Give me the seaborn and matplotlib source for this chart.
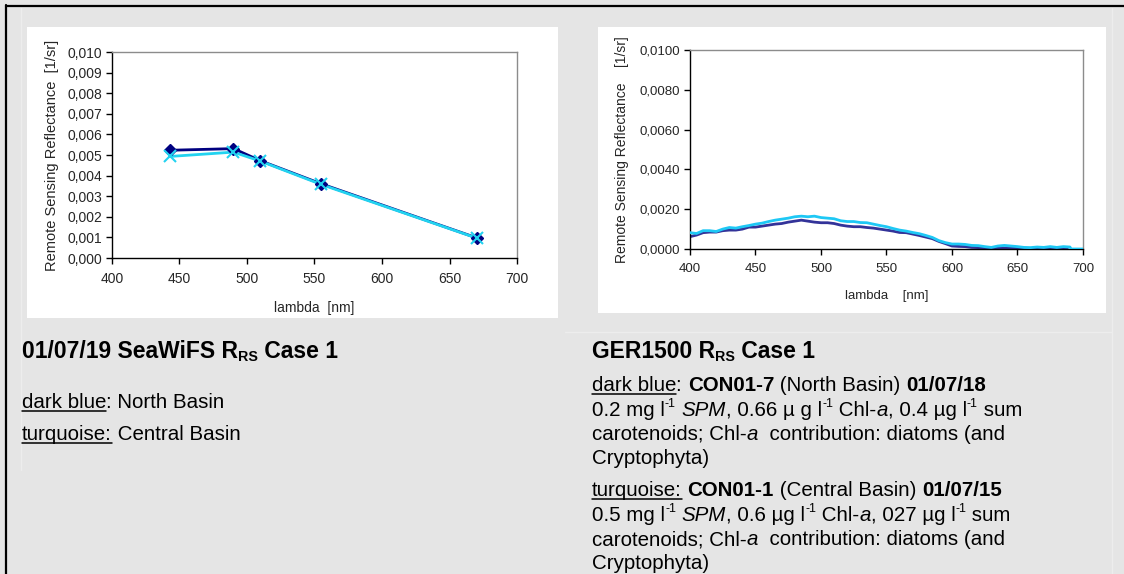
import numpy as np
import pandas as pd
import matplotlib
matplotlib.use("Agg")
import matplotlib.pyplot as plt
import seaborn as sns
from matplotlib.lines import Line2D
from matplotlib.patches import Rectangle
from matplotlib.ticker import FuncFormatter
from matplotlib.transforms import IdentityTransform

# ---------------- data ----------------
seawifs_nm = [443, 490, 510, 555, 670]
seawifs_north = [0.00523, 0.00531, 0.00472, 0.00360, 0.00098]
seawifs_central = [0.00493, 0.00514, 0.00470, 0.00357, 0.00097]

ger_nm_north = [400, 405, 410, 415, 420, 425, 430, 435, 440, 445, 450, 455, 460, 465, 470,
                475, 480, 485, 490, 495, 500, 505, 510, 515, 520, 525, 530, 535, 540, 545,
                550, 555, 560, 565, 570, 575, 580, 585, 590, 595, 600, 605, 610, 615, 620,
                625, 630, 635, 640, 645, 650, 655, 660, 665, 670, 675, 680, 685, 688]
ger_north = [0.00062, 0.00070, 0.00082, 0.00085, 0.00085, 0.00092, 0.00095, 0.00095, 0.00100,
             0.00110, 0.00110, 0.00115, 0.00120, 0.00125, 0.00128, 0.00135, 0.00140, 0.00145,
             0.00140, 0.00135, 0.00132, 0.00132, 0.00128, 0.00120, 0.00115, 0.00112, 0.00112,
             0.00108, 0.00105, 0.00100, 0.00095, 0.00090, 0.00083, 0.00082, 0.00075, 0.00068,
             0.00060, 0.00052, 0.00038, 0.00027, 0.00015, 0.00013, 0.00012, 0.00008, 0.00007,
             0.00005, 0.00005, 0.00007, 0.00005, 0.00003, 0.00003, 0.00004, 0.00003, 0.00003,
             0.00004, 0.00003, 0.00003, 0.00003, 0.00003]

ger_nm_central = [400, 405, 410, 415, 420, 425, 430, 435, 440, 445, 450, 455, 460, 465, 470,
                  475, 480, 485, 490, 495, 500, 505, 510, 515, 520, 525, 530, 535, 540, 545,
                  550, 555, 560, 565, 570, 575, 580, 585, 590, 595, 600, 605, 610, 615, 620,
                  625, 630, 635, 640, 645, 650, 655, 660, 665, 670, 675, 680, 685, 690, 691, 700]
ger_central = [0.00082, 0.00078, 0.00092, 0.00092, 0.00088, 0.00100, 0.00108, 0.00105, 0.00112,
               0.00118, 0.00125, 0.00130, 0.00138, 0.00145, 0.00150, 0.00155, 0.00162, 0.00165,
               0.00162, 0.00165, 0.00158, 0.00155, 0.00152, 0.00142, 0.00138, 0.00138, 0.00133,
               0.00132, 0.00125, 0.00118, 0.00112, 0.00103, 0.00095, 0.00090, 0.00083, 0.00077,
               0.00068, 0.00058, 0.00042, 0.00032, 0.00025, 0.00025, 0.00023, 0.00018, 0.00017,
               0.00012, 0.00008, 0.00015, 0.00018, 0.00015, 0.00012, 0.00008, 0.00007, 0.00010,
               0.00008, 0.00012, 0.00008, 0.00012, 0.00010, 0.00000, 0.00000]

left_yticks = [0.000, 0.001, 0.002, 0.003, 0.004, 0.005, 0.006, 0.007, 0.008, 0.009, 0.010]
right_yticks = [0.0000, 0.0020, 0.0040, 0.0060, 0.0080, 0.0100]
xticks = [400, 450, 500, 550, 600, 650, 700]

# ---------------- style ----------------
sns.set_style("white")
plt.rcParams["font.family"] = ["Liberation Sans", "DejaVu Sans"]

W, H = 1124, 574
BG = "#e5e5e5"
fig = plt.figure(figsize=(W / 100, H / 100), dpi=100, facecolor=BG)


def fx(px):
    return px / W


def fy(py):
    return 1 - py / H


# borders
fig.add_artist(Line2D([fx(6), 1], [fy(5.5), fy(5.5)], color="black", lw=1.6, zorder=-5))
fig.add_artist(Line2D([fx(6.5), fx(6.5)], [fy(5), 0], color="black", lw=1.6, zorder=-5))
# faint cell lines
fig.add_artist(Line2D([fx(21), fx(21)], [fy(8), fy(470)], color="#ededed", lw=1, zorder=-9))
fig.add_artist(Line2D([fx(565), fx(1112)], [fy(332), fy(332)], color="#ededed", lw=1, zorder=-9))
fig.add_artist(Line2D([fx(1112), fx(1112)], [fy(8), 0], color="#ededed", lw=1, zorder=-9))

# white chart panels
fig.add_artist(Rectangle((fx(27), fy(318)), (558 - 27) / W, (318 - 27) / H,
                         transform=fig.transFigure, facecolor="white", edgecolor="none",
                         zorder=-8))
fig.add_artist(Rectangle((fx(598), fy(313)), (1106 - 598) / W, (313 - 27) / H,
                         transform=fig.transFigure, facecolor="white", edgecolor="none",
                         zorder=-8))


def style_axes(ax, fs, ndec):
    ax.set_facecolor("white")
    for s in ["left", "bottom"]:
        ax.spines[s].set_color("black")
        ax.spines[s].set_linewidth(1.0)
    for s in ["top", "right"]:
        ax.spines[s].set_color("#8c8c8c")
        ax.spines[s].set_linewidth(1.0)
    ax.tick_params(axis="both", direction="out", length=4, width=1, color="black",
                   labelsize=fs, pad=3, left=True, bottom=True)
    ax.tick_params(axis="x", pad=6)
    ax.set_xlim(400, 700)
    ax.set_xticks(xticks)
    ax.yaxis.set_major_formatter(FuncFormatter(lambda v, p: f"{v:.{ndec}f}".replace(".", ",")))
    ax.grid(False)


# ---------------- left chart ----------------
axL = fig.add_axes([fx(112), fy(258), (517 - 112) / W, (258 - 52) / H])
dfL = pd.DataFrame({"nm": seawifs_nm, "north": seawifs_north, "central": seawifs_central})
sns.lineplot(data=dfL, x="nm", y="north", ax=axL, color="#000080", lw=2.0, zorder=2)
sns.lineplot(data=dfL, x="nm", y="central", ax=axL, color="#22d3f0", lw=2.0, zorder=3)
axL.plot(dfL["nm"], dfL["north"], ls="none", marker="D", ms=6.5, color="#000080",
         mec="#000080", zorder=4, clip_on=False)
axL.plot(dfL["nm"], dfL["central"], ls="none", marker="x", ms=8, mew=1.5, color="#22d3f0",
         zorder=5, clip_on=False)
style_axes(axL, 10, 3)
axL.set_ylim(0, 0.010)
axL.set_yticks(left_yticks)
axL.set_xlabel("lambda  [nm]", fontsize=10, labelpad=11)
axL.set_ylabel("Remote Sensing Reflectance  [1/sr]", fontsize=10.5, labelpad=6)

# ---------------- right chart ----------------
axR = fig.add_axes([fx(690), fy(249), (1083 - 690) / W, (249 - 50) / H])
dfN = pd.DataFrame({"nm": ger_nm_north, "r": ger_north})
dfC = pd.DataFrame({"nm": ger_nm_central, "r": ger_central})
sns.lineplot(data=dfN, x="nm", y="r", ax=axR, color="#333399", lw=2.0, zorder=2)
sns.lineplot(data=dfC, x="nm", y="r", ax=axR, color="#1ec8f5", lw=2.0, zorder=3)
style_axes(axR, 9.5, 4)
axR.set_ylim(0, 0.0100)
axR.set_yticks(right_yticks)
axR.set_xlabel("lambda    [nm]", fontsize=9.5, labelpad=11)
axR.set_ylabel("Remote Sensing Reflectance    [1/sr]", fontsize=10, labelpad=8)

# ---------------- rich text ----------------
fig.canvas.draw()
renderer = fig.canvas.get_renderer()


def text_width(s, **kw):
    t1 = fig.text(0, 0, "|" + s + "|", transform=IdentityTransform(), **kw)
    t2 = fig.text(0, 0, "||", transform=IdentityTransform(), **kw)
    w = t1.get_window_extent(renderer).width - t2.get_window_extent(renderer).width
    t1.remove()
    t2.remove()
    return w


def draw_runs(x0, baseline, runs, size):
    x = x0
    for s, st in runs:
        flags = st.split()
        kw = dict(fontsize=size, color="black", family="Liberation Sans")
        y = H - baseline
        if "b" in flags:
            kw["fontweight"] = "bold"
        if "i" in flags:
            kw["fontstyle"] = "italic"
        if "sup" in flags:
            kw["fontsize"] = size * 0.6
            y += size * 100 / 72 * 0.42
        if "sub" in flags:
            kw["fontsize"] = size * 0.62
            y -= size * 100 / 72 * 0.12
        w = text_width(s, **kw)
        fig.text(x, y, s, transform=IdentityTransform(), va="baseline", ha="left", **kw)
        if "u" in flags:
            uy = H - baseline - 2.5
            fig.add_artist(Line2D([x, x + w], [uy, uy], color="black", lw=1.1,
                                  transform=IdentityTransform()))
        x += w


TS = 16.5
BS = 14.8
# left text block
draw_runs(22, 358, [("01/07/19 SeaWiFS R", "b"), ("RS", "b sub"), (" Case 1", "b")], TS)
draw_runs(22, 408, [("dark blue", "u"), (": North Basin", "")], BS)
draw_runs(22, 440, [("turquoise:", "u"), (" Central Basin", "")], BS)

# right text block
X2 = 592
draw_runs(X2, 358, [("GER1500 R", "b"), ("RS", "b sub"), (" Case 1", "b")], TS)
draw_runs(X2, 391, [("dark blue", "u"), (": ", ""), ("CON01-7", "b"), (" (North Basin) ", ""),
                    ("01/07/18", "b")], BS)
draw_runs(X2, 416, [("0.2 mg l", ""), ("-1", "sup"), (" ", ""), ("SPM", "i"),
                    (", 0.66 µ g l", ""), ("-1", "sup"), (" Chl-", ""), ("a", "i"),
                    (", 0.4 µg l", ""), ("-1", "sup"), (" sum", "")], BS)
draw_runs(X2, 440, [("carotenoids; Chl-", ""), ("a", "i"), ("  contribution: diatoms (and", "")], BS)
draw_runs(X2, 464, [("Cryptophyta)", "")], BS)
draw_runs(X2, 496, [("turquoise:", "u"), (" ", ""), ("CON01-1", "b"), (" (Central Basin) ", ""),
                    ("01/07/15", "b")], BS)
draw_runs(X2, 521, [("0.5 mg l", ""), ("-1", "sup"), (" ", ""), ("SPM", "i"),
                    (", 0.6 µg l", ""), ("-1", "sup"), (" Chl-", ""), ("a", "i"),
                    (", 027 µg l", ""), ("-1", "sup"), (" sum", "")], BS)
draw_runs(X2, 545, [("carotenoids; Chl-", ""), ("a", "i"), ("  contribution: diatoms (and", "")], BS)
draw_runs(X2, 569, [("Cryptophyta)", "")], BS)

fig.savefig("out.png", dpi=100, facecolor=BG)
